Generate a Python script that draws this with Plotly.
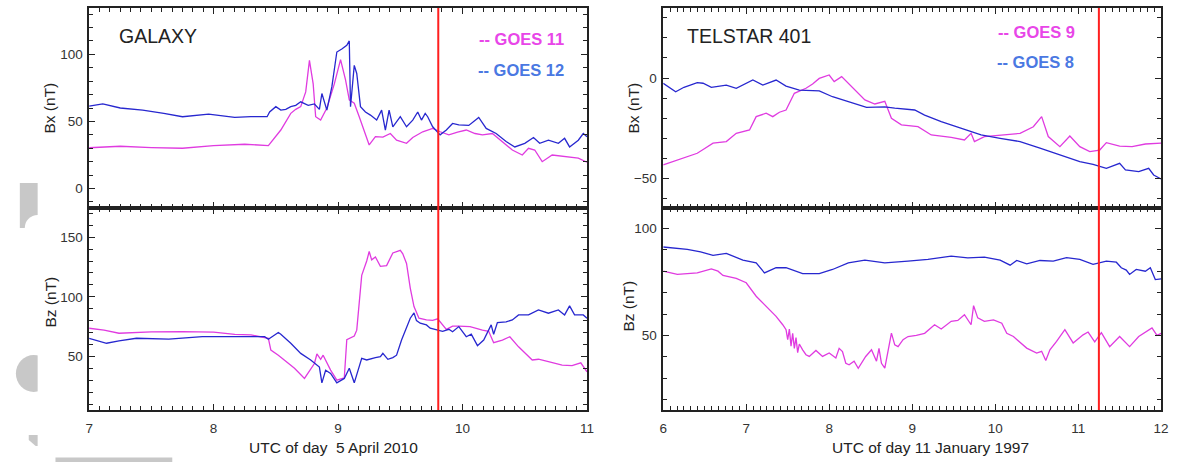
import plotly.graph_objects as go

# ---------------- DATA ----------------
# GALAXY, 5 April 2010  (UTC hours)
g11_bx_t = [7.00, 7.25, 7.50, 7.75, 8.00, 8.25, 8.44, 8.54, 8.62, 8.66, 8.70, 8.74, 8.77, 8.80, 8.82,
            8.86, 8.91, 8.97, 9.02, 9.06, 9.09, 9.13, 9.17, 9.21, 9.25, 9.30, 9.36, 9.42, 9.47, 9.55,
            9.60, 9.68, 9.76, 9.82, 9.89, 9.96, 10.03, 10.10, 10.16, 10.24, 10.32, 10.40, 10.48, 10.53,
            10.58, 10.64, 10.72, 10.82, 10.93, 11.00]
g11_bx = [30.4, 31.5, 30.5, 30.0, 32.0, 33.0, 32.0, 43.6, 56.0, 59.0, 61.0, 72.0, 95.5, 78.0, 53.5,
          51.0, 60.0, 78.0, 96.0, 81.0, 66.0, 63.6, 53.5, 43.6, 32.5, 38.6, 38.3, 41.0, 36.0, 33.7,
          38.0, 42.3, 44.8, 42.3, 40.0, 42.0, 43.6, 41.0, 40.0, 41.0, 35.0, 28.7, 25.0, 30.0,
          28.7, 20.0, 25.0, 23.8, 22.6, 19.6]

g12_bx_t = [7.00, 7.11, 7.25, 7.43, 7.60, 7.75, 7.96, 8.17, 8.30, 8.43, 8.45, 8.50, 8.54, 8.58, 8.62,
            8.66, 8.70, 8.76, 8.81, 8.85, 8.87, 8.91, 8.95, 8.99, 9.03, 9.07, 9.09, 9.10, 9.13, 9.15,
            9.18, 9.22, 9.26, 9.31, 9.35, 9.38, 9.41, 9.44, 9.50, 9.55, 9.60, 9.64, 9.67, 9.70, 9.72,
            9.76, 9.82, 9.87, 9.92, 9.97, 10.05, 10.13, 10.19, 10.27, 10.35, 10.42, 10.50, 10.57, 10.62,
            10.69, 10.77, 10.82, 10.86, 10.93, 10.97, 11.00]
g12_bx = [61.4, 63.0, 60.0, 58.4, 56.0, 53.5, 55.5, 53.0, 53.5, 53.5, 57.0, 61.0, 58.4, 59.0, 61.0,
          62.0, 64.6, 62.0, 63.0, 59.0, 70.8, 58.4, 75.7, 101.7, 104.0, 106.7, 110.0, 60.9, 91.8, 85.7,
          61.0, 57.0, 54.7, 51.0, 58.4, 43.6, 58.4, 46.0, 53.5, 46.0, 51.0, 57.0, 51.0, 56.0, 53.5,
          46.0, 40.0, 43.6, 48.5, 47.5, 47.0, 53.0, 44.8, 41.0, 35.0, 31.0, 33.7, 38.0, 33.7,
          36.0, 33.7, 37.4, 31.0, 36.0, 41.0, 38.6]

g11_bz_t = [7.00, 7.12, 7.24, 7.50, 7.75, 8.00, 8.17, 8.30, 8.44, 8.46, 8.52, 8.57, 8.65, 8.73, 8.81,
            8.83, 8.86, 8.88, 8.94, 8.99, 9.05, 9.07, 9.13, 9.15, 9.19, 9.23, 9.25, 9.27, 9.30, 9.34,
            9.39, 9.44, 9.50, 9.52, 9.55, 9.58, 9.61, 9.65, 9.71, 9.76, 9.80, 9.87, 9.92, 9.97, 10.06,
            10.16, 10.21, 10.25, 10.32, 10.38, 10.45, 10.56, 10.61, 10.69, 10.80, 10.88, 10.95, 11.00]
g11_bz = [73.6, 72.0, 69.4, 70.5, 70.7, 70.3, 68.5, 68.0, 65.2, 55.3, 51.0, 47.0, 40.0, 31.5, 44.0,
          52.0, 47.5, 51.0, 38.5, 30.0, 32.0, 64.0, 67.0, 72.0, 118.0, 130.0, 138.0, 131.0, 133.4, 125.5,
          126.2, 136.8, 139.0, 136.0, 128.0, 107.3, 91.8, 82.0, 80.6, 80.2, 81.5, 72.7, 75.4, 75.4, 75.0,
          72.0, 71.0, 61.5, 63.7, 66.5, 58.0, 47.0, 47.6, 45.5, 42.7, 42.3, 44.6, 37.0]

g12_bz_t = [7.00, 7.07, 7.14, 7.24, 7.38, 7.64, 7.91, 8.17, 8.41, 8.44, 8.52, 8.54, 8.62, 8.70, 8.78,
            8.85, 8.87, 8.90, 8.94, 8.99, 9.05, 9.09, 9.13, 9.19, 9.23, 9.30, 9.34, 9.36, 9.40, 9.44,
            9.47, 9.51, 9.55, 9.58, 9.61, 9.63, 9.66, 9.71, 9.74, 9.79, 9.84, 9.89, 9.92, 9.97, 10.03,
            10.07, 10.12, 10.17, 10.20, 10.23, 10.25, 10.28, 10.35, 10.40, 10.45, 10.53, 10.61, 10.69,
            10.77, 10.82, 10.86, 10.90, 10.97, 11.00]
g12_bz = [65.2, 63.0, 61.0, 63.0, 65.2, 64.4, 66.5, 66.5, 66.5, 64.3, 70.0, 68.6, 61.0, 52.5, 47.0,
          41.0, 27.8, 38.4, 35.7, 27.8, 31.5, 40.0, 27.8, 48.3, 47.0, 49.0, 49.7, 52.6, 47.5, 49.0,
          51.0, 63.7, 75.0, 82.0, 86.5, 80.0, 77.8, 76.4, 73.6, 72.2, 71.0, 72.7, 70.7, 75.0, 66.5,
          68.6, 59.0, 63.7, 70.7, 76.4, 68.6, 78.3, 79.0, 80.6, 84.8, 84.8, 89.0, 86.2,
          89.0, 84.8, 92.4, 84.8, 84.8, 82.0]

# TELSTAR 401, 11 January 1997
g9_bx_t = [6.00, 6.17, 6.30, 6.41, 6.50, 6.60, 6.76, 6.88, 7.04, 7.12, 7.24, 7.32, 7.40, 7.48, 7.58,
           7.72, 7.80, 7.88, 8.00, 8.06, 8.15, 8.27, 8.35, 8.43, 8.55, 8.67, 8.75, 8.87, 9.07, 9.23,
           9.47, 9.63, 9.71, 9.75, 9.87, 10.06, 10.30, 10.46, 10.56, 10.64, 10.78, 10.90, 11.02, 11.14,
           11.26, 11.34, 11.50, 11.65, 11.81, 12.00]
g9_bx = [-43.2, -40.7, -39.0, -37.4, -35.0, -32.4, -31.6, -27.5, -25.8, -19.2, -17.5, -19.2, -17.0, -15.9, -7.6,
         -5.1, -3.0, -0.2, 1.5, -1.8, 0.7, -4.3, -7.5, -10.9, -12.9, -11.6, -20.0, -23.3, -24.2, -28.3,
         -29.5, -30.8, -27.5, -31.6, -29.1, -28.3, -27.5, -24.2, -19.2, -29.1, -34.1, -28.8, -34.1, -36.6,
         -35.8, -32.1, -33.8, -34.1, -32.8, -32.4]

g8_bx_t = [6.00, 6.15, 6.25, 6.41, 6.48, 6.58, 6.76, 6.88, 7.08, 7.20, 7.36, 7.48, 7.64, 7.88, 8.04,
           8.23, 8.45, 8.67, 8.79, 9.03, 9.15, 9.35, 9.59, 9.83, 10.06, 10.30, 10.54, 10.78, 11.02, 11.18,
           11.34, 11.50, 11.57, 11.73, 11.85, 11.91, 12.00]
g8_bx = [-2.6, -6.8, -4.6, -2.3, -2.6, -4.6, -3.5, -5.1, -1.0, -3.5, -1.0, -4.0, -6.0, -6.4, -9.3,
         -11.8, -14.6, -14.3, -15.0, -15.9, -18.4, -21.7, -25.0, -28.3, -30.0, -31.6, -34.9, -38.3, -41.6, -42.9,
         -44.9, -42.4, -45.7, -46.5, -44.9, -48.2, -50.2]

g9_bz_t = [6.00, 6.17, 6.41, 6.58, 6.66, 6.72, 6.88, 7.00, 7.12, 7.24, 7.36, 7.44, 7.48, 7.50, 7.52,
           7.54, 7.56, 7.58, 7.60, 7.62, 7.64, 7.68, 7.72, 7.76, 7.84, 7.92, 8.00, 8.08, 8.12, 8.16,
           8.20, 8.24, 8.30, 8.35, 8.44, 8.51, 8.57, 8.60, 8.63, 8.67, 8.71, 8.75, 8.79, 8.83, 8.89,
           8.95, 9.05, 9.15, 9.27, 9.35, 9.47, 9.55, 9.63, 9.67, 9.71, 9.74, 9.79, 9.87, 9.98, 10.08,
           10.14, 10.22, 10.38, 10.50, 10.56, 10.61, 10.66, 10.74, 10.84, 10.94, 11.06, 11.12, 11.20, 11.28,
           11.38, 11.50, 11.62, 11.73, 11.89, 11.95, 12.00]
g9_bz = [80.0, 78.5, 79.2, 81.1, 80.0, 78.0, 76.6, 74.6, 68.3, 63.6, 58.9, 55.0, 52.7, 48.0, 53.0,
         45.0, 51.0, 44.0, 49.0, 42.0, 46.0, 43.3, 41.0, 40.2, 43.0, 40.2, 41.8, 39.5, 44.0, 42.5,
         37.0, 36.3, 38.0, 34.7, 40.2, 43.3, 38.0, 44.0, 37.0, 34.7, 43.3, 51.1, 45.6, 44.8, 48.0,
         49.5, 50.0, 51.0, 55.0, 53.0, 56.6, 57.0, 59.7, 57.0, 55.0, 63.9, 58.2, 56.6, 57.3, 55.7,
         51.0, 49.5, 44.1, 41.8, 42.6, 38.3, 43.3, 47.2, 52.7, 46.5, 50.3, 51.6, 47.0, 51.3,
         44.8, 49.5, 44.8, 49.5, 53.5, 50.0, 51.0]

g8_bz_t = [6.00, 6.29, 6.45, 6.60, 6.76, 6.96, 7.12, 7.22, 7.36, 7.48, 7.68, 7.88, 8.04, 8.23, 8.43,
           8.55, 8.67, 8.95, 9.19, 9.47, 9.67, 9.87, 10.06, 10.18, 10.26, 10.38, 10.54, 10.70, 10.86, 11.02,
           11.18, 11.34, 11.46, 11.52, 11.58, 11.62, 11.70, 11.81, 11.87, 11.93, 12.00]
g8_bz = [91.3, 90.2, 89.0, 87.4, 88.3, 85.2, 83.9, 79.2, 81.6, 81.6, 78.9, 78.9, 80.8, 83.9, 85.2,
         84.7, 83.9, 84.7, 85.5, 87.0, 86.2, 86.6, 85.2, 82.8, 85.0, 83.4, 85.0, 84.7, 86.3, 85.5,
         83.2, 84.7, 84.2, 81.6, 80.5, 78.5, 80.8, 80.0, 81.6, 76.1, 76.4]

event_left = 9.805
event_right = 11.25

for a, b in [(g11_bx_t, g11_bx), (g12_bx_t, g12_bx), (g11_bz_t, g11_bz), (g12_bz_t, g12_bz),
             (g9_bx_t, g9_bx), (g8_bx_t, g8_bx), (g9_bz_t, g9_bz), (g8_bz_t, g8_bz)]:
    assert len(a) == len(b), (len(a), len(b))

# ---------------- LAYOUT ----------------
W, H = 1181, 462
MAG = "#e03be0"
BLU = "#2727cf"
FONT = "Liberation Sans, Arial, sans-serif"


def px(x):
    return x / W


def py(y):
    return 1 - y / H


LX = [px(86), px(589)]
RX = [px(666), px(1169)]
TOP = [py(208), py(8)]
BOT = [py(410), py(208)]

fig = go.Figure()

series = [
    (g11_bx_t, g11_bx, MAG, "x", "y"), (g12_bx_t, g12_bx, BLU, "x", "y"),
    (g11_bz_t, g11_bz, MAG, "x2", "y2"), (g12_bz_t, g12_bz, BLU, "x2", "y2"),
    (g9_bx_t, g9_bx, MAG, "x3", "y3"), (g8_bx_t, g8_bx, BLU, "x3", "y3"),
    (g9_bz_t, g9_bz, MAG, "x4", "y4"), (g8_bz_t, g8_bz, BLU, "x4", "y4"),
]
for t, v, c, xa, ya in series:
    fig.add_trace(go.Scatter(x=t, y=v, mode="lines", line=dict(color=c, width=1.3),
                             xaxis=xa, yaxis=ya, showlegend=False, hoverinfo="skip"))

AXC = "#222222"
TICKFONT = dict(family=FONT, size=13.5, color="#333")


def xax(rng, dom, anchor, labels):
    return dict(range=rng, domain=dom, anchor=anchor, showline=True, linecolor=AXC, linewidth=1.5,
                mirror="allticks", ticks="inside", ticklen=6, tickwidth=1.2, tickcolor=AXC,
                dtick=1, tick0=0, showgrid=False, zeroline=False, showticklabels=labels,
                ticklabelstandoff=5, tickfont=TICKFONT,
                minor=dict(dtick=1 / 12, ticks="inside", ticklen=4, tickwidth=1, tickcolor=AXC, showgrid=False))


def yax(rng, dom, anchor):
    return dict(range=rng, domain=dom, anchor=anchor, showline=True, linecolor=AXC, linewidth=1.5,
                mirror="allticks", ticks="inside", ticklen=6, tickwidth=1.2, tickcolor=AXC,
                dtick=50, tick0=0, showgrid=False, zeroline=False, tickfont=TICKFONT,
                ticklabelstandoff=2,
                minor=dict(dtick=10, ticks="inside", ticklen=4, tickwidth=1, tickcolor=AXC, showgrid=False))


fig.update_layout(
    width=W, height=H, margin=dict(l=0, r=0, t=0, b=0),
    paper_bgcolor="white", plot_bgcolor="white",
    font=dict(family=FONT, color="#222"),
    xaxis=xax([7, 11], LX, "y", False),
    yaxis=yax([-14.5, 134.5], TOP, "x"),
    xaxis2=xax([7, 11], LX, "y2", True),
    yaxis2=yax([5, 174.5], BOT, "x2"),
    xaxis3=xax([6, 12], RX, "y3", False),
    yaxis3=yax([-64.6, 34.8], TOP, "x3"),
    xaxis4=xax([6, 12], RX, "y4", True),
    yaxis4=yax([15.2, 109.5], BOT, "x4"),
)

# event lines
for xv, xr in [(event_left, "x"), (event_right, "x3")]:
    fig.add_shape(type="line", xref=xr, yref="paper", x0=xv, x1=xv, y0=py(410), y1=py(8),
                  line=dict(color="#ff1f1f", width=2))

# scan artefacts at left edge
GR = "#c8c8c8"
fig.add_shape(type="rect", xref="paper", yref="paper", x0=px(16), x1=px(34), y0=py(228), y1=py(183),
              fillcolor=GR, line_width=0, layer="below")
fig.add_shape(type="circle", xref="paper", yref="paper", x0=px(21), x1=px(47), y0=py(241), y1=py(215),
              fillcolor="white", line_width=0, layer="below")
fig.add_shape(type="circle", xref="paper", yref="paper", x0=px(12), x1=px(48), y0=py(392), y1=py(355),
              fillcolor=GR, line_width=0, layer="below")
fig.add_shape(type="rect", xref="paper", yref="paper", x0=px(34), x1=px(50), y0=py(393), y1=py(354),
              fillcolor="white", line_width=0, layer="below")
fig.add_shape(type="path", xref="paper", yref="paper",
              path=f"M {px(25)},{py(435)} L {px(34)},{py(435)} L {px(34)},{py(446)} L {px(32)},{py(446)} L {px(25)},{py(440)} Z",
              fillcolor=GR, line_width=0, layer="below")
fig.add_shape(type="rect", xref="paper", yref="paper", x0=px(52), x1=px(170), y0=py(462), y1=py(457.5),
              fillcolor=GR, line_width=0, layer="below")


def ann(text, x, y, size, color="#222", bold=False, angle=0, xanchor="center"):
    fig.add_annotation(text=f"<b>{text}</b>" if bold else text, x=px(x), y=py(y), xref="paper", yref="paper",
                       showarrow=False, xanchor=xanchor, yanchor="middle", textangle=angle,
                       font=dict(family=FONT, size=size, color=color), borderpad=0)


ann("GALAXY", 115, 36, 19.5, xanchor="left")
ann("TELSTAR 401", 689, 36, 19.5, xanchor="left")
ann("-- GOES 11", 479, 39, 16.5, color="#e846e8", bold=True, xanchor="left")
ann("-- GOES 12", 478, 70, 16.5, color="#4a78e2", bold=True, xanchor="left")
ann("-- GOES 9", 1003, 32, 16.5, color="#e846e8", bold=True, xanchor="left")
ann("-- GOES 8", 1002, 62, 16.5, color="#4a78e2", bold=True, xanchor="left")
ann("Bx (nT)", 46, 108, 15.5, angle=-90)
ann("Bz (nT)", 46, 302, 15.5, angle=-90)
ann("Bx (nT)", 636, 108, 15.5, angle=-90)
ann("Bz (nT)", 630, 306, 15.5, angle=-90)
ann("UTC of day  5 April 2010", 246, 447, 15.5, xanchor="left")
ann("UTC of day 11 January 1997", 835, 447, 15.5, xanchor="left")

fig.write_html("out.html")
